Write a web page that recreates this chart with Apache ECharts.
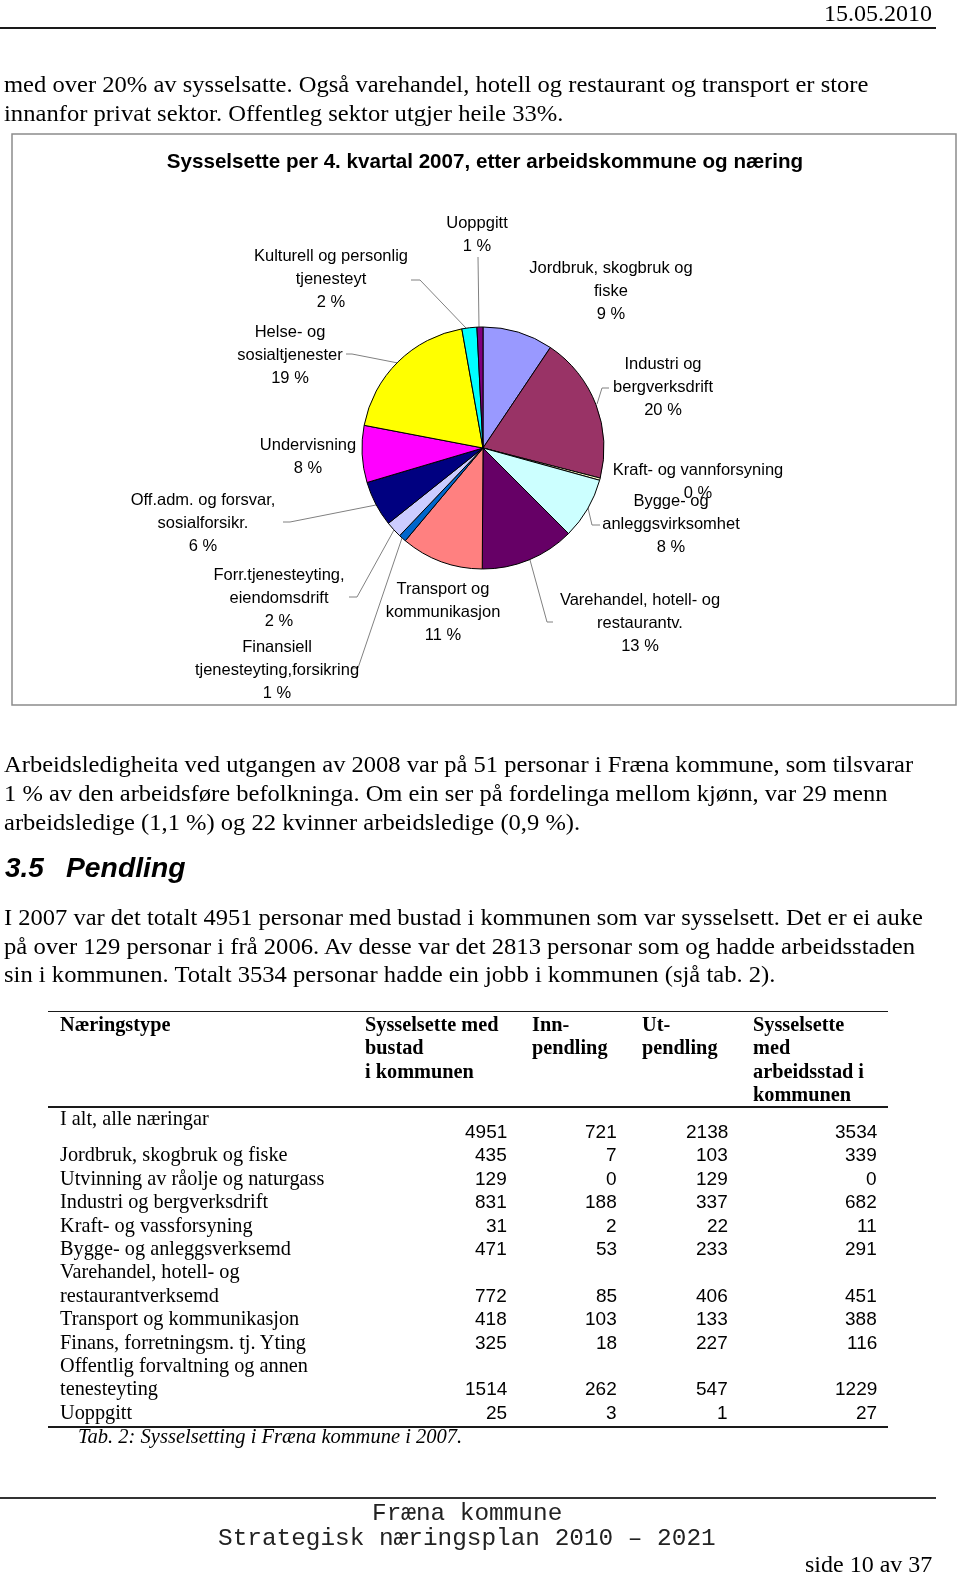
<!DOCTYPE html>
<html><head><meta charset="utf-8">
<script src="https://cdn.jsdelivr.net/npm/echarts@6/dist/echarts.min.js"></script>
<style>
html,body{margin:0;padding:0;background:#fff;}
#page{position:relative;width:960px;height:1574px;overflow:hidden;background:#fff;}
#chart{position:absolute;left:0;top:0;width:960px;height:1574px;}
.t{position:absolute;left:0;top:0;white-space:nowrap;color:#000;}
.rule{position:absolute;background:#1a1a1a;}
</style></head>
<body><div id="page"><div id="chart"></div></div>
<script>
// ---------- pie chart data ----------
const chartTitle = 'Sysselsette per 4. kvartal 2007, etter arbeidskommune og næring';
const pieNames = [
  'Jordbruk, skogbruk og\nfiske',
  'Industri og\nbergverksdrift',
  'Kraft- og vannforsyning',
  'Bygge- og\nanleggsvirksomhet',
  'Varehandel, hotell- og\nrestaurantv.',
  'Transport og\nkommunikasjon',
  'Finansiell\ntjenesteyting,forsikring',
  'Forr.tjenesteyting,\neiendomsdrift',
  'Off.adm. og forsvar,\nsosialforsikr.',
  'Undervisning',
  'Helse- og\nsosialtjenester',
  'Kulturell og personlig\ntjenesteyt',
  'Uoppgitt'
];
const pieValues = [9.4, 19.6, 0.3, 8.2, 12.6, 11.0, 1.0, 2.2, 6.1, 7.6, 19.2, 2.0, 0.8];
const pieColors = ['#9999FF','#993366','#FFFFCC','#CCFFFF','#660066','#FF8080','#0066CC','#CCCCFF','#000080','#FF00FF','#FFFF00','#00FFFF','#800080'];

// ---------- table data ----------
const tableHeaders = [['Næringstype'], ['Sysselsette med','bustad','i kommunen'], ['Inn-','pendling'], ['Ut-','pendling'], ['Sysselsette','med','arbeidsstad i','kommunen']];
const tableRowLabels = [
  ['I alt, alle næringar'],
  ['Jordbruk, skogbruk og fiske'],
  ['Utvinning av råolje og naturgass'],
  ['Industri og bergverksdrift'],
  ['Kraft- og vassforsyning'],
  ['Bygge- og anleggsverksemd'],
  ['Varehandel, hotell- og','restaurantverksemd'],
  ['Transport og kommunikasjon'],
  ['Finans, forretningsm. tj. Yting'],
  ['Offentlig forvaltning og annen','tenesteyting'],
  ['Uoppgitt']
];
const colBustad = [4951, 435, 129, 831, 31, 471, 772, 418, 325, 1514, 25];
const colInn    = [721, 7, 0, 188, 2, 53, 85, 103, 18, 262, 3];
const colUt     = [2138, 103, 129, 337, 22, 233, 406, 133, 227, 547, 1];
const colArbeid = [3534, 339, 0, 682, 11, 291, 451, 388, 116, 1229, 27];

// ---------- page text ----------
const para1 = ['med over 20% av sysselsatte. Også varehandel, hotell og restaurant og transport er store',
               'innanfor privat sektor. Offentleg sektor utgjer heile 33%.'];
const para2 = ['Arbeidsledigheita ved utgangen av 2008 var på 51 personar i Fræna kommune, som tilsvarar',
               '1 % av den arbeidsføre befolkninga. Om ein ser på fordelinga mellom kjønn, var 29 menn',
               'arbeidsledige (1,1 %) og 22 kvinner arbeidsledige (0,9 %).'];
const para3 = ['I 2007 var det totalt 4951 personar med bustad i kommunen som var sysselsett. Det er ei auke',
               'på over 129 personar i frå 2006. Av desse var det 2813 personar som og hadde arbeidsstaden',
               'sin i kommunen. Totalt 3534 personar hadde ein jobb i kommunen (sjå tab. 2).'];

// ---------- layout (positions / styles) ----------
const SERIF = '"Liberation Serif","Times New Roman",serif';
const SANS = '"Liberation Sans",Arial,sans-serif';
const MONO = '"Liberation Mono","Courier New",monospace';
const page = document.getElementById('page');

function put(text, x, base, font, opt) {
  opt = opt || {};
  const d = document.createElement('div');
  d.className = 't';
  d.style.font = font;
  if (opt.color) d.style.color = opt.color;
  d.appendChild(document.createTextNode(text));
  const m = document.createElement('span');
  m.style.cssText = 'display:inline-block;width:0;height:0;vertical-align:baseline;';
  d.appendChild(m);
  page.appendChild(d);
  const off = m.offsetTop;
  const w = d.offsetWidth;
  let sx = 1;
  if (opt.fit) {
    sx = Math.max(0.9, Math.min(1.1, opt.fit / w));
    d.style.transformOrigin = '0 0';
    d.style.transform = 'scaleX(' + sx + ')';
  }
  const ew = w * sx;
  let left = x;
  if (opt.align === 'right') left = x - ew;
  else if (opt.align === 'center') left = x - ew / 2;
  d.style.left = left + 'px';
  d.style.top = (base - off) + 'px';
}
function rule(x, y, w, h, c) {
  const d = document.createElement('div');
  d.className = 'rule';
  d.style.left = x + 'px'; d.style.top = y + 'px';
  d.style.width = w + 'px'; d.style.height = h + 'px';
  if (c) d.style.background = c;
  page.appendChild(d);
}

// header
put('15.05.2010', 932, 21, '24px ' + SERIF, {align: 'right'});
rule(0, 27, 936, 2);

// paragraph 1
const p1W = [864, 559];
para1.forEach((s, i) => put(s, 4, 92 + i * 28.5, '24px ' + SERIF, {fit: p1W[i]}));

// paragraph 2
const p2W = [909, 883, 576];
para2.forEach((s, i) => put(s, 4, 772 + i * 29, '24px ' + SERIF, {fit: p2W[i]}));

// heading
put('3.5', 5, 877, 'italic bold 28px ' + SANS);
put('Pendling', 66, 877, 'italic bold 28.3px ' + SANS);

// paragraph 3
const p3W = [919, 911, 771];
para3.forEach((s, i) => put(s, 4, 925 + i * 28.5, '24px ' + SERIF, {fit: p3W[i]}));

// table
const colX = [60, 365, 532, 642, 753];
const headBase = [1031, 1054, 1078, 1101];
tableHeaders.forEach((lines, c) => lines.forEach((s, k) => put(s, colX[c], headBase[k], 'bold 20.3px ' + SERIF)));
rule(48, 1010.5, 840, 1.5);
rule(48, 1106, 840, 1.5);
const rowBase0 = 1138, rowStep = 23.4;
const numRight = [507, 617, 728, 877];
const numCols = [colBustad, colInn, colUt, colArbeid];
let slot = 0;
tableRowLabels.forEach((lines, r) => {
  if (r === 0) {
    put(lines[0], 60, 1125, '20.3px ' + SERIF);
  } else {
    lines.forEach((s, k) => put(s, 60, rowBase0 + (slot + k) * rowStep, '20.3px ' + SERIF));
    slot += lines.length - 1;
  }
  const nb = rowBase0 + slot * rowStep;
  numCols.forEach((col, c) => put(String(col[r]), numRight[c], nb, '19px ' + SANS, {align: 'right'}));
  slot += 1;
});
rule(48, 1426, 840, 1.5);
put('Tab. 2: Sysselsetting i Fræna kommune i 2007.', 78, 1443, 'italic 20px ' + SERIF, {fit: 384});

// footer
rule(0, 1497, 936, 1.5, '#333');
put('Fræna kommune', 467, 1520, '24.4px ' + MONO, {align: 'center', color: '#222'});
put('Strategisk næringsplan 2010 – 2021', 467, 1545, '24.4px ' + MONO, {align: 'center', color: '#222'});
put('side 10 av 37', 932, 1572, '24px ' + SERIF, {align: 'right'});

// ---------- chart ----------
const labelPos = [[611,291],[663,387],[698,482],[671,524],[640,623],[443,612],[277,670],[279,598],[203,523],[308,457],[290,355],[331,279],[477,235]];
const leaderPts = [
  null,
  [[597,404],[602,388],[609,388]],
  null,
  [[588,508],[592,525],[600,525]],
  [[530,560],[547,622],[553,622]],
  null,
  [[402,538],[358,668],[351,668]],
  [[394,530],[357,597],[349,597]],
  [[376,505],[290,522],[283,522]],
  null,
  [[398,363],[352,354],[346,354]],
  [[466,328],[420,280],[411,280]],
  [[479,327],[478,257]]
];
const total = pieValues.reduce((a, b) => a + b, 0);
const pct = pieValues.map(v => Math.round(v / total * 100));

const chart = echarts.init(document.getElementById('chart'), null, {renderer: 'canvas'});
chart.setOption({
  animation: false,
  graphic: [
    {type: 'rect', z: 0, shape: {x: 12, y: 134, width: 944, height: 571},
     style: {fill: 'none', stroke: '#8c8c8c', lineWidth: 1.5}},
    {type: 'text', x: 485, y: 162,
     style: {text: chartTitle, fontFamily: SANS, fontWeight: 'bold', fontSize: 20.6, fill: '#000', align: 'center', verticalAlign: 'middle'}}
  ],
  series: [{
    type: 'pie',
    center: [483, 448],
    radius: 121,
    startAngle: 90,
    clockwise: true,
    avoidLabelOverlap: false,
    minShowLabelAngle: 0,
    itemStyle: {borderColor: '#000', borderWidth: 1},
    label: {
      show: true, position: 'outside', color: '#000',
      fontFamily: SANS, fontSize: 16.5, lineHeight: 23, align: 'center',
      formatter: p => p.name + '\n' + pct[p.dataIndex] + ' %'
    },
    labelLine: {show: true, length: 10, length2: 10, lineStyle: {color: '#808080', width: 1}},
    labelLayout: function (params) {
      const i = params.dataIndex;
      const o = {x: labelPos[i][0], y: labelPos[i][1], align: 'center', verticalAlign: 'middle'};
      if (leaderPts[i]) o.labelLinePoints = leaderPts[i];
      return o;
    },
    emphasis: {disabled: true},
    data: pieNames.map((n, i) => ({
      name: n, value: pieValues[i],
      itemStyle: {color: pieColors[i]},
      labelLine: {show: !!leaderPts[i]}
    }))
  }]
});
</script>
</body></html>
